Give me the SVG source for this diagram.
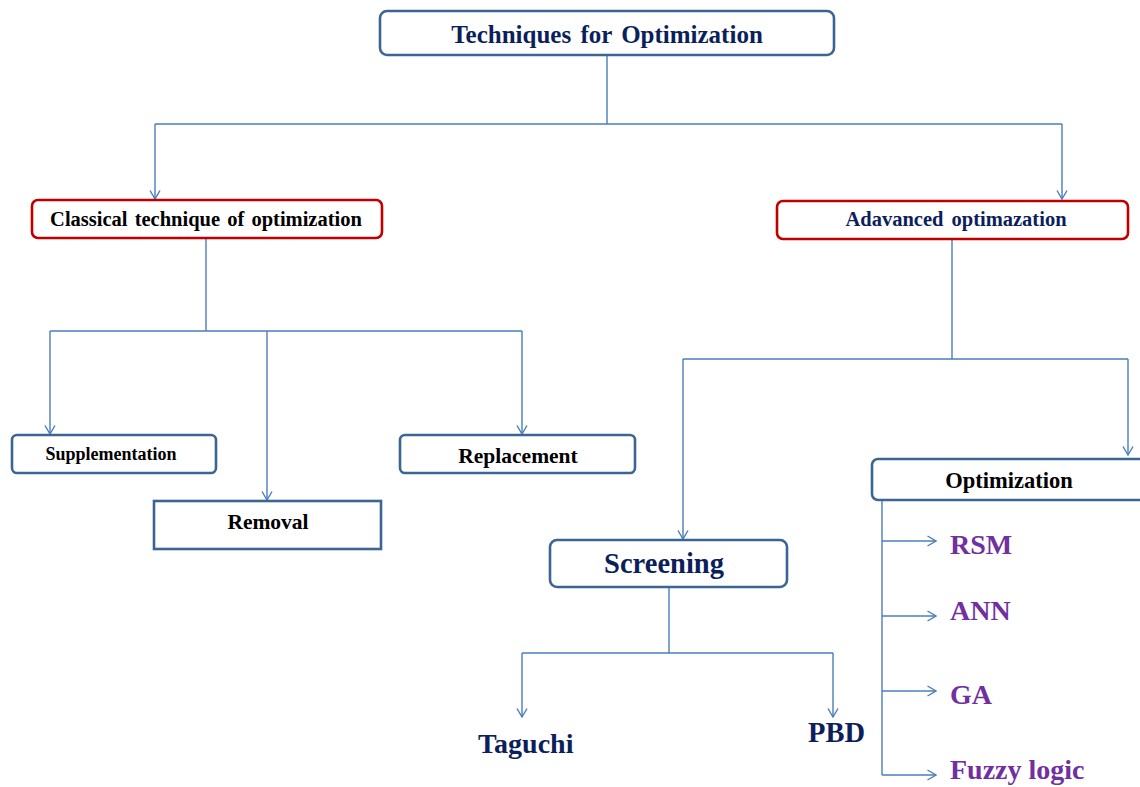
<svg xmlns="http://www.w3.org/2000/svg" width="1140" height="787" viewBox="0 0 1140 787">
<style>
.box{fill:#fff;stroke:#3B6592;stroke-width:2.6}
.red{fill:#fff;stroke:#C00000;stroke-width:2.6}
.con{fill:none;stroke:#4A7EBB;stroke-width:1.4}
text{font-family:"Liberation Serif","Times New Roman",serif;font-weight:bold}
.navy{fill:#0C1F5B}
.blk{fill:#000}
.pur{fill:#7030A0}
</style>
<defs>
<marker id="arr" viewBox="0 0 10 12" refX="9.5" refY="6" markerWidth="10" markerHeight="12" markerUnits="userSpaceOnUse" orient="auto">
<path d="M1,1 L9.5,6 L1,11" fill="none" stroke="#4A7EBB" stroke-width="1.4"/>
</marker>
</defs>
<g id="connectors">
<path class="con" d="M607,55 V124 M155,124 H1062"/>
<path class="con" d="M155,124 V199" marker-end="url(#arr)"/>
<path class="con" d="M1062,124 V199" marker-end="url(#arr)"/>
<path class="con" d="M206,239 V331 M50,331 H522"/>
<path class="con" d="M50,331 V434" marker-end="url(#arr)"/>
<path class="con" d="M267,331 V500" marker-end="url(#arr)"/>
<path class="con" d="M522,331 V434" marker-end="url(#arr)"/>
<path class="con" d="M952,239 V359 M683,359 H1128"/>
<path class="con" d="M683,359 V539" marker-end="url(#arr)"/>
<path class="con" d="M1128,359 V455" marker-end="url(#arr)"/>
<path class="con" d="M669,588 V653 M522,653 H833"/>
<path class="con" d="M522,653 V717" marker-end="url(#arr)"/>
<path class="con" d="M833,653 V717" marker-end="url(#arr)"/>
<path class="con" d="M882,500 V775"/>
<path class="con" d="M882,541 H936" marker-end="url(#arr)"/>
<path class="con" d="M882,616 H936" marker-end="url(#arr)"/>
<path class="con" d="M882,691 H936" marker-end="url(#arr)"/>
<path class="con" d="M882,775 H936" marker-end="url(#arr)"/>
</g>
<g id="n-top">
<rect class="box" x="380" y="11" width="454" height="44" rx="7"/>
<text class="navy" x="607" y="43" font-size="25" text-anchor="middle" word-spacing="3">Techniques for Optimization</text>
</g>
<g id="n-classical">
<rect class="red" x="32" y="200" width="350" height="38" rx="6"/>
<text class="blk" x="206" y="226" font-size="20.5" text-anchor="middle" word-spacing="2">Classical technique of optimization</text>
</g>
<g id="n-advanced">
<rect class="red" x="777" y="201" width="351" height="38" rx="6"/>
<text class="navy" x="956" y="226" font-size="20.5" text-anchor="middle" word-spacing="3">Adavanced optimazation</text>
</g>
<g id="n-supp">
<rect class="box" x="12" y="435" width="204" height="38" rx="5"/>
<text class="blk" x="111" y="460" font-size="18" text-anchor="middle">Supplementation</text>
</g>
<g id="n-repl">
<rect class="box" x="400" y="435" width="235" height="38" rx="5"/>
<text class="blk" x="518" y="463" font-size="21.5" text-anchor="middle">Replacement</text>
</g>
<g id="n-removal">
<rect class="box" x="154" y="501" width="227" height="48"/>
<text class="blk" x="268" y="529" font-size="21.5" text-anchor="middle">Removal</text>
</g>
<g id="n-optimization">
<rect class="box" x="872" y="459" width="280" height="41" rx="6"/>
<text class="blk" x="1009" y="488" font-size="22.5" text-anchor="middle">Optimization</text>
</g>
<g id="n-screening">
<rect class="box" x="550" y="540" width="237" height="47" rx="7"/>
<text class="navy" x="664" y="573" font-size="28.5" text-anchor="middle">Screening</text>
</g>
<g id="n-taguchi"><text class="navy" x="478" y="753" font-size="28">Taguchi</text></g>
<g id="n-pbd"><text class="navy" x="808" y="742" font-size="28.5">PBD</text></g>
<g id="n-rsm"><text class="pur" x="950" y="554" font-size="28">RSM</text></g>
<g id="n-ann"><text class="pur" x="950" y="620" font-size="28">ANN</text></g>
<g id="n-ga"><text class="pur" x="950" y="704" font-size="28">GA</text></g>
<g id="n-fuzzy"><text class="pur" x="950" y="779" font-size="28">Fuzzy logic</text></g>
</svg>
